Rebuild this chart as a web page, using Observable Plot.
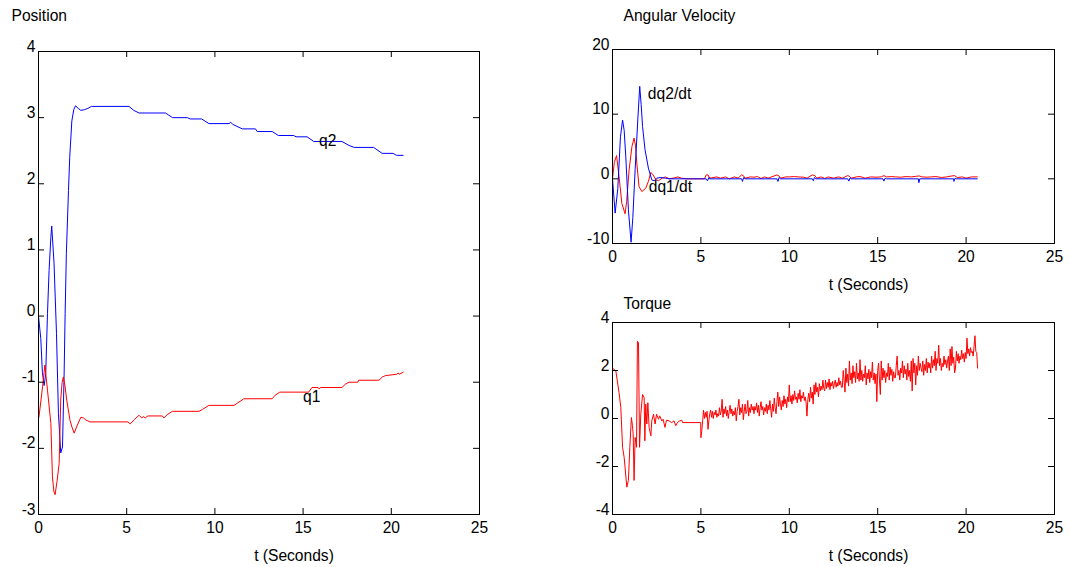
<!DOCTYPE html>
<html>
<head>
<meta charset="utf-8">
<script src="https://cdn.jsdelivr.net/npm/d3@7"></script>
<script src="https://cdn.jsdelivr.net/npm/@observablehq/plot@0.6"></script>
<style>
  html, body { margin: 0; padding: 0; background: #fff; }
  #wrap { position: relative; width: 1070px; height: 567px; overflow: hidden; background: #fff; }
  #wrap > div { position: absolute; }
</style>
</head>
<body>
<div id="wrap">
  <div id="p1" style="left:0px;top:0px"></div>
  <div id="p2" style="left:560px;top:0px"></div>
  <div id="p3" style="left:560px;top:290px"></div>
</div>
<script>
// ---------- data ----------
const xTicks = [0, 5, 10, 15, 20, 25];
const posTicks = [-3, -2, -1, 0, 1, 2, 3, 4];
const velTicks = [-10, 0, 10, 20];
const torqueTicks = [-4, -2, 0, 2, 4];

const titles = ["Position", "Angular Velocity", "Torque"];
const xLabel = "t (Seconds)";

// Position q2 (blue) [t, value]
const q2 = [[0,0],[0.13,-0.34],[0.22,-0.85],[0.32,-1.05],[0.41,-0.87],[0.51,0.04],[0.6,0.69],[0.7,1.19],[0.75,1.36],[0.88,0.8],[1.02,-0.26],[1.13,-1.47],[1.26,-2.07],[1.36,-1.98],[1.45,-0.92],[1.51,0.04],[1.58,0.95],[1.7,1.9],[1.77,2.4],[1.89,2.95],[2.0,3.12],[2.1,3.18],[2.25,3.14],[2.4,3.11],[2.6,3.12],[2.8,3.14],[3.0,3.17],[5.13,3.17],[5.4,3.11],[5.7,3.07],[7.2,3.07],[7.6,3.0],[8.44,3.0],[8.6,2.98],[9.25,2.98],[9.66,2.91],[10.8,2.91],[10.9,2.93],[11.0,2.9],[11.55,2.83],[12.3,2.83],[12.4,2.79],[13.25,2.79],[13.6,2.73],[14.47,2.73],[14.6,2.71],[15.23,2.71],[15.6,2.64],[17.2,2.64],[17.6,2.58],[17.9,2.55],[19.0,2.55],[19.48,2.46],[20.1,2.46],[20.3,2.43],[20.67,2.43]];
// Position q1 (red)
const q1 = [[0,-1.55],[0.03,-1.52],[0.23,-1.07],[0.36,-0.74],[0.51,-1.12],[0.7,-1.62],[0.79,-2.43],[0.87,-2.65],[0.94,-2.7],[1.05,-2.5],[1.17,-2.23],[1.26,-1.27],[1.34,-1.0],[1.41,-0.92],[1.5,-1.05],[1.6,-1.27],[1.79,-1.58],[1.9,-1.68],[2.02,-1.77],[2.2,-1.65],[2.4,-1.53],[2.55,-1.54],[2.68,-1.57],[2.92,-1.6],[5.07,-1.6],[5.2,-1.63],[5.45,-1.56],[5.7,-1.5],[5.85,-1.54],[5.95,-1.52],[6.05,-1.54],[6.2,-1.51],[7.02,-1.51],[7.11,-1.54],[7.3,-1.49],[7.59,-1.44],[9.1,-1.44],[9.3,-1.41],[9.66,-1.35],[11.08,-1.35],[11.2,-1.33],[11.64,-1.25],[13.25,-1.25],[13.4,-1.2],[13.68,-1.15],[15.32,-1.15],[15.5,-1.08],[15.85,-1.08],[15.9,-1.1],[16.0,-1.08],[17.2,-1.08],[17.4,-1.03],[17.6,-1.0],[18.1,-1.0],[18.15,-0.97],[19.3,-0.97],[19.5,-0.92],[19.67,-0.9],[20.3,-0.88],[20.4,-0.86],[20.45,-0.88],[20.67,-0.85]];

// Angular velocity dq2/dt (blue)
const dq2 = [[0,0],[0.15,-5.3],[0.3,-1.5],[0.45,6.5],[0.57,9.1],[0.66,7.5],[0.75,3.5],[0.9,-4.8],[1.05,-9.8],[1.15,-6],[1.28,1.4],[1.43,9.1],[1.54,14.3],[1.62,11.5],[1.7,8.1],[1.84,4.5],[2.03,1.66],[2.22,-0.15],[2.35,-0.3],[2.5,0.1],[2.7,0.2],[3.0,0.1],[3.2,0],[5.3,0],[5.37,-0.3],[5.45,0.2],[5.5,0],[7.3,0],[7.35,-0.4],[7.42,0.2],[7.5,0],[9.3,0],[9.36,-0.4],[9.42,0.2],[9.5,0],[11.3,0],[11.36,-0.3],[11.42,0.2],[11.5,0],[13.3,0],[13.37,-0.35],[13.44,0.15],[13.5,0],[15.3,0],[15.35,-0.35],[15.42,0.1],[15.5,0],[17.3,0],[17.33,-0.6],[17.38,0],[19.3,0],[19.31,-0.4],[19.38,0.1],[19.45,0],[20.63,0]];
// Angular velocity dq1/dt (red)
const dq1 = [[0,0],[0.1,2.5],[0.23,3.6],[0.37,0.35],[0.53,-3.8],[0.71,-5.4],[0.8,-3.5],[0.94,1.4],[1.1,5.0],[1.22,6.3],[1.3,5.2],[1.36,2.9],[1.5,-1.2],[1.66,-1.97],[1.88,-1.45],[2.03,-0.4],[2.17,1.0],[2.3,0.6],[2.45,-0.1],[2.6,-0.3],[2.8,0.1],[3.0,0.3],[3.2,0],[3.5,0.15],[3.7,0.3],[3.9,0.1],[4.2,0],[5.2,0],[5.3,0.6],[5.4,0.6],[5.5,0.1],[5.9,0.3],[6.1,0.1],[6.4,0.3],[6.6,0],[6.9,0.3],[7.1,0.1],[7.3,0.6],[7.4,0.5],[7.5,0.1],[7.8,0.3],[8.0,0.25],[8.2,0.35],[8.4,0.05],[8.6,0.3],[8.8,0.1],[9.3,0.6],[9.4,0.5],[9.5,0.1],[9.8,0.3],[10.0,0.3],[10.3,0.35],[10.5,0.3],[10.8,0.25],[11.0,0.1],[11.3,0.6],[11.45,0.5],[11.55,0.1],[11.8,0.3],[12.0,0.05],[12.2,0.3],[12.5,0.1],[12.8,0.3],[13.0,0.1],[13.3,0.5],[13.4,0.4],[13.5,0.1],[13.8,0.3],[14.0,0.35],[14.3,0.1],[14.6,0.3],[14.9,0.25],[15.2,0.3],[15.35,0.5],[15.5,0.3],[15.8,0.35],[16.0,0.3],[16.3,0.25],[16.6,0.35],[16.9,0.3],[17.2,0.4],[17.35,0.45],[17.5,0.3],[17.8,0.25],[18.0,0.3],[18.3,0.35],[18.6,0.2],[18.9,0.3],[19.2,0.45],[19.35,0.5],[19.5,0.2],[19.8,0.3],[20.0,0.1],[20.3,0.3],[20.63,0.3]];

// Torque, first 5 seconds [t, value]
const torqueStart = [[0,2.1],[0.19,1.98],[0.37,1.08],[0.47,0.46],[0.57,-1.2],[0.66,-1.62],[0.81,-2.86],[0.9,-2.58],[0.98,-1.2],[1.07,0.04],[1.13,-0.3],[1.17,-0.65],[1.22,-2.58],[1.28,-0.79],[1.36,-1.2],[1.41,3.22],[1.47,3.15],[1.53,-1.2],[1.6,0.18],[1.7,1.0],[1.79,0.87],[1.83,-0.93],[1.88,0.6],[1.94,-0.23],[2.0,0.66],[2.07,-0.37],[2.17,-0.72],[2.22,-0.1],[2.32,0.18],[2.41,-0.23],[2.49,0.18],[2.6,-0.03],[2.67,0.11],[2.79,-0.1],[2.86,-0.03],[2.97,-0.37],[3.05,-0.07],[3.2,-0.1],[3.35,-0.17],[3.48,-0.1],[3.58,-0.3],[3.67,-0.17],[3.8,-0.1],[3.92,-0.07],[3.96,-0.17],[4.99,-0.17]];
// Torque from t = 5.00 s, sampled every 0.05 s
const torqueT0 = 5.0, torqueDt = 0.05;
const torqueNoisy = [
  -0.8,-0.5,-0.1,0.35,0.0,0.25,0.05,0.3,-0.45,-0.1,0.2,0.35,0.05,0.3,0.0,0.25,0.15,0.35,0.05,0.2,
  0.1,0.45,0.15,0.3,0.8,0.05,0.4,0.2,0.5,0.1,0.35,0.0,0.3,0.55,0.2,0.4,0.1,0.3,0.15,0.45,
  -0.1,0.3,0.5,0.8,0.15,0.45,0.25,0.6,-0.05,0.3,0.6,0.2,0.3,0.75,0.1,0.45,0.25,0.6,0.35,0.5,
  0.2,0.5,0.35,0.65,0.25,0.55,0.1,0.45,0.7,0.35,0.5,0.15,0.45,0.3,0.6,0.2,0.55,0.35,0.75,0.4,
  0.05,0.6,0.3,0.85,0.45,0.2,0.7,1.1,0.5,0.9,0.6,0.35,0.75,0.5,0.95,0.6,0.8,0.45,0.9,0.7,
  1.4,0.7,0.95,0.6,1.0,0.75,1.15,0.8,0.9,0.65,1.05,0.8,1.2,0.7,0.95,0.85,1.1,0.75,0.9,0.65,
  0.1,0.8,1.05,0.7,1.3,0.85,1.1,0.6,1.4,1.0,1.5,1.1,1.3,0.9,1.45,1.15,1.35,1.2,1.6,1.25,
  1.15,1.6,1.25,1.5,1.3,1.65,1.2,1.5,1.35,1.55,1.25,1.45,1.6,1.3,1.5,1.35,1.7,1.4,1.55,1.3,
  1.3,2.0,1.6,1.1,2.1,1.5,1.85,1.35,2.4,1.6,1.9,1.45,2.2,1.7,1.95,1.5,2.3,1.65,1.9,1.55,
  2.45,1.6,2.0,1.55,1.85,1.7,2.2,1.4,1.9,1.65,2.05,1.5,1.95,1.7,2.35,1.6,1.9,1.45,1.85,0.7,
  2.0,2.3,1.6,1.0,2.4,1.6,2.1,1.7,2.0,1.5,1.9,1.75,2.3,1.6,2.15,1.8,2.05,1.55,1.95,1.7,
  1.7,2.2,2.6,1.8,2.0,1.6,2.1,1.9,2.4,1.7,2.2,1.85,2.05,1.6,2.3,1.75,2.0,1.55,2.4,1.15,
  2.5,1.9,2.3,1.4,2.2,1.8,2.6,2.0,2.3,2.1,1.95,2.4,1.8,2.25,2.0,2.5,1.9,2.35,2.1,2.3,
  1.9,2.6,2.1,2.45,2.2,2.8,2.0,2.5,2.3,3.05,2.2,2.5,2.0,2.3,2.15,2.6,2.25,2.45,2.1,2.4,
  2.6,2.0,2.9,2.2,3.0,2.3,2.55,1.9,2.1,2.8,2.4,2.7,2.3,2.6,2.45,2.85,2.5,2.7,2.35,2.75,
  2.5,3.35,2.7,2.9,2.6,2.95,2.75,2.8,2.6,3.0,3.45,2.8,2.75,2.1
];

// curve labels [t, value, text]
const posLabels = [[15.9, 2.65, "q2"], [15.0, -1.22, "q1"]];
const velLabels = [[2.0, 13.1, "dq2/dt"], [2.05, -1.2, "dq1/dt"]];

// ---------- build ----------
const torque = torqueStart.concat(torqueNoisy.map((v, i) => [+(torqueT0 + i * torqueDt).toFixed(2), v]));

const FONT = "'Liberation Sans', Arial, Helvetica, sans-serif";
const TICK = 6;

function panel({width, height, mt, mr, mb, ml, yDomain, yTicks, series, labels, title, titleDx, titleDy}) {
  const iw = width - ml - mr, ih = height - mt - mb;
  const fmt = d => String(d);
  return Plot.plot({
    width, height, marginTop: mt, marginRight: mr, marginBottom: mb, marginLeft: ml,
    style: {fontFamily: FONT, fontSize: "15.6px", color: "#000", background: "transparent", overflow: "visible"},
    x: {domain: [0, 25]},
    y: {domain: yDomain},
    marks: [
      ...series.map(s => Plot.line(s.data, {x: d => d[0], y: d => d[1], stroke: s.color, strokeWidth: 1})),
      Plot.frame({stroke: "#000", strokeWidth: 1}),
      Plot.tickX(xTicks, {x: d => d, insetTop: ih - TICK, stroke: "#000"}),
      Plot.tickX(xTicks, {x: d => d, insetBottom: ih - TICK, stroke: "#000"}),
      Plot.tickY(yTicks, {y: d => d, insetRight: iw - TICK, stroke: "#000"}),
      Plot.tickY(yTicks, {y: d => d, insetLeft: iw - TICK, stroke: "#000"}),
      Plot.axisX(xTicks, {tickSize: 0, tickPadding: 7, tickFormat: fmt, label: null}),
      Plot.axisY(yTicks, {tickSize: 0, tickPadding: 3, tickFormat: fmt, label: null, dy: -5}),
      Plot.text(labels, {x: d => d[0], y: d => d[1], text: d => d[2], textAnchor: "start", fill: "#000"}),
      Plot.text([xLabel], {frameAnchor: "bottom", lineAnchor: "middle", dy: 41.5, dx: 35, fill: "#000"}),
      Plot.text([title], {frameAnchor: "top-left", lineAnchor: "middle", textAnchor: "start", dx: titleDx, dy: titleDy, fill: "#000"})
    ]
  });
}

document.getElementById("p1").append(panel({
  width: 540, height: 567, mt: 51, mr: 61, mb: 53, ml: 38,
  yDomain: [-3, 4], yTicks: posTicks,
  series: [{data: q2, color: "#0000ff"}, {data: q1, color: "#ff0000"}],
  labels: posLabels, title: titles[0], titleDx: -27, titleDy: -35.5
}));

document.getElementById("p2").append(panel({
  width: 510, height: 300, mt: 49, mr: 16, mb: 57, ml: 52,
  yDomain: [-10, 20], yTicks: velTicks,
  series: [{data: dq1, color: "#ff0000"}, {data: dq2, color: "#0000ff"}],
  labels: velLabels, title: titles[1], titleDx: 11, titleDy: -33.2
}));

document.getElementById("p3").append(panel({
  width: 510, height: 277, mt: 32, mr: 16, mb: 53, ml: 52,
  yDomain: [-4, 4], yTicks: torqueTicks,
  series: [{data: torque, color: "#ff0000"}],
  labels: [], title: titles[2], titleDx: 11, titleDy: -19
}));
</script>
</body>
</html>
